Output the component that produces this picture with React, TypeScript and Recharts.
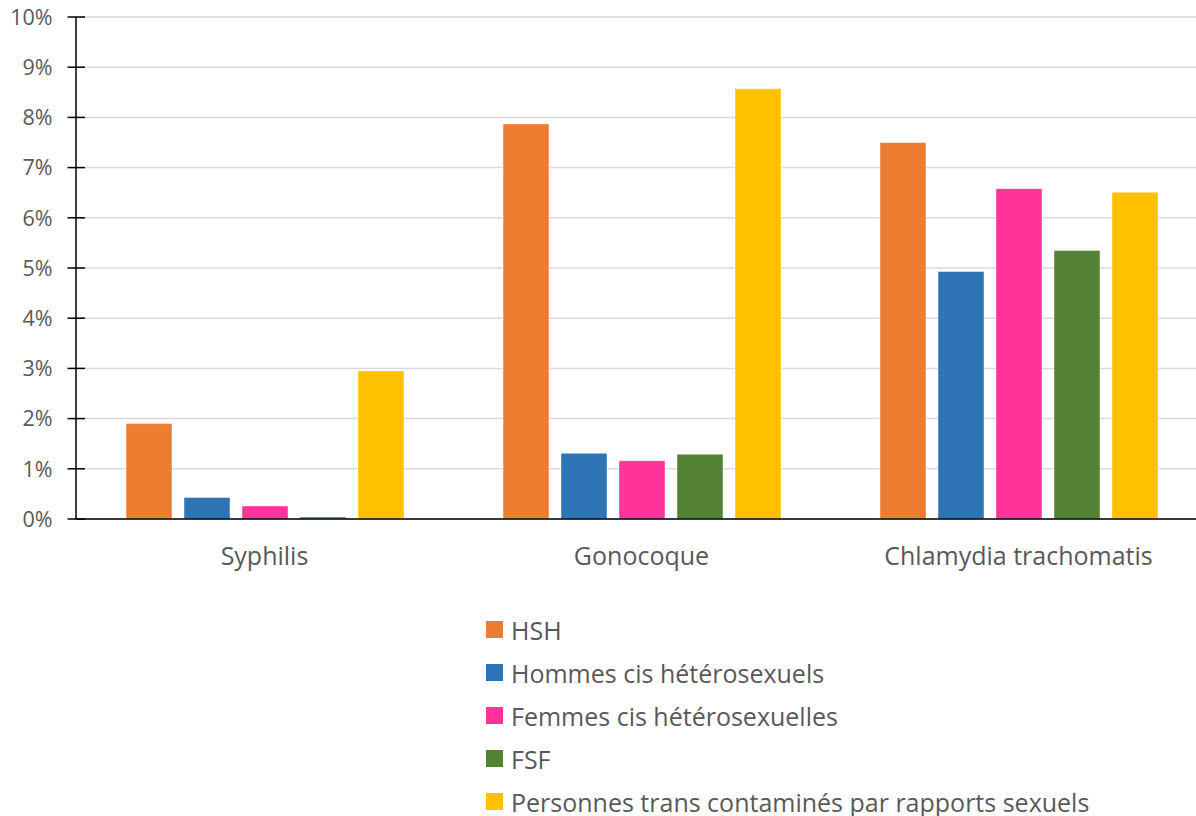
import { BarChart, Bar, XAxis, YAxis, CartesianGrid, Legend } from 'recharts'

// ==================== Data ====================

const CATEGORIES = ['Syphilis', 'Gonocoque', 'Chlamydia trachomatis']

const HSH = [1.9, 7.87, 7.5]
const HOMMES_CIS = [0.43, 1.31, 4.93]
const FEMMES_CIS = [0.26, 1.16, 6.58]
const FSF = [0.04, 1.29, 5.35]
const TRANS = [2.95, 8.57, 6.51]

const Y_TICKS = [0, 1, 2, 3, 4, 5, 6, 7, 8, 9, 10]

const SERIES = [
  { key: 'hsh', name: 'HSH', values: HSH, color: '#ED7D31' },
  { key: 'hommesCis', name: 'Hommes cis hétérosexuels', values: HOMMES_CIS, color: '#2E75B6' },
  { key: 'femmesCis', name: 'Femmes cis hétérosexuelles', values: FEMMES_CIS, color: '#FF3399' },
  { key: 'fsf', name: 'FSF', values: FSF, color: '#548235' },
  { key: 'trans', name: 'Personnes trans contaminés par rapports sexuels', values: TRANS, color: '#FFC000' },
]

const chartData = CATEGORIES.map((category, i) => {
  const row: Record<string, string | number> = { category }
  SERIES.forEach(s => { row[s.key] = s.values[i] })
  return row
})

const FONT = '"Open Sans", sans-serif'
const TEXT = '#595959'

// ==================== Ticks ====================

// Excel-style cross ticks: the mark straddles the axis line
function YTick({ x, y, payload }: any) {
  return (
    <g>
      <line x1={x - 8.5} x2={x + 9} y1={y} y2={y} stroke="#000" strokeWidth={1.5} />
      <text x={x - 23.5} y={y} dy="0.36em" textAnchor="end" fill={TEXT}
        fontFamily={FONT} fontSize={21.5}>
        {`${payload.value}%`}
      </text>
    </g>
  )
}

function XTick({ x, y, payload }: any) {
  return (
    <text x={x} y={y + 46} textAnchor="middle" fill={TEXT} fontFamily={FONT} fontSize={25}>
      {payload.value}
    </text>
  )
}

// ==================== Legend ====================

function LegendList() {
  return (
    <div style={{ fontFamily: FONT, fontSize: 25, color: TEXT }}>
      {SERIES.map(s => (
        <div key={s.key} style={{ display: 'flex', alignItems: 'center', height: 43, whiteSpace: 'nowrap' }}>
          <span style={{ width: 17, height: 17, background: s.color, marginRight: 8, flex: 'none' }} />
          <span>{s.name}</span>
        </div>
      ))}
    </div>
  )
}

// ==================== Chart ====================

export default function App() {
  return (
    <div style={{ position: 'absolute', left: 0, top: 0, width: 1196, height: 816, overflow: 'hidden', background: '#fff' }}>
      <BarChart
        width={1210}
        height={816}
        data={chartData}
        margin={{ top: 17, right: 3, bottom: 237, left: 0 }}
        barCategoryGap={50}
        barGap={12}
      >
        <CartesianGrid vertical={false} stroke="#d9d9d9" strokeWidth={1.5} />
        <XAxis
          dataKey="category"
          axisLine={{ stroke: '#000', strokeWidth: 1.5 }}
          tickLine={false}
          tickSize={0}
          tickMargin={0}
          height={60}
          tick={<XTick />}
        />
        <YAxis
          domain={[0, 10]}
          ticks={Y_TICKS}
          width={76}
          axisLine={{ stroke: '#000', strokeWidth: 1.5 }}
          tickLine={false}
          tickSize={0}
          tickMargin={0}
          tick={<YTick />}
          interval={0}
        />
        <Legend
          layout="vertical"
          align="center"
          verticalAlign="middle"
          wrapperStyle={{ left: 486, top: 608, width: 710 }}
          content={<LegendList />}
        />
        {SERIES.map(s => (
          <Bar
            key={s.key}
            dataKey={s.key}
            name={s.name}
            fill={s.color}
            stroke="#fff"
            strokeOpacity={0.45}
            strokeWidth={1}
            isAnimationActive={false}
          />
        ))}
      </BarChart>
    </div>
  )
}
